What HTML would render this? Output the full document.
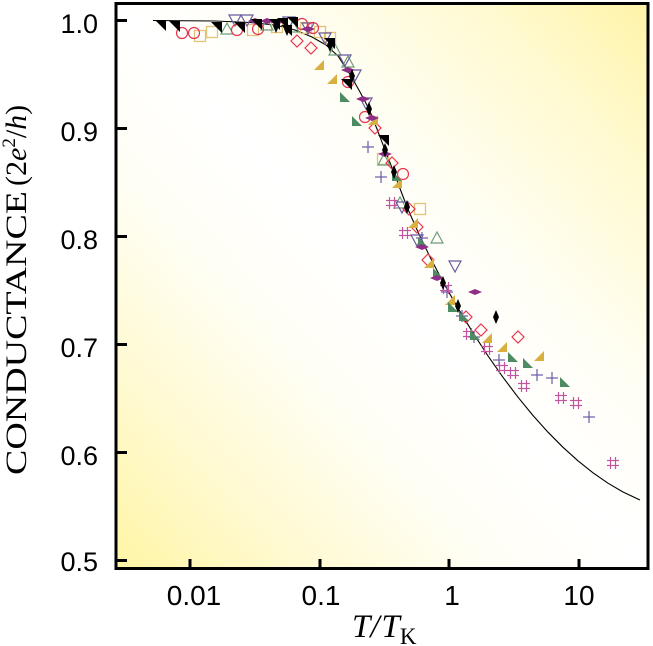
<!DOCTYPE html>
<html><head><meta charset="utf-8">
<style>
html,body{margin:0;padding:0;background:#fff;}
svg{display:block;}
</style></head>
<body>
<svg xmlns="http://www.w3.org/2000/svg" width="653" height="646" viewBox="0 0 653 646">
<defs>
<linearGradient id="bg" x1="0" y1="1" x2="1" y2="0">
<stop offset="0" stop-color="#fff5a5"/>
<stop offset="0.15" stop-color="#fff9cb"/>
<stop offset="0.35" stop-color="#fffef4"/>
<stop offset="0.5" stop-color="#ffffff"/>
<stop offset="0.65" stop-color="#fffef4"/>
<stop offset="0.85" stop-color="#fffacf"/>
<stop offset="1" stop-color="#fff3a8"/>
</linearGradient>
<polygon id="bk" points="-6,-5 5,-5 5,6" fill="#000"/>
<polygon id="gd" points="5,-5 5,5 -5,5" fill="#d8b040"/>
<polygon id="gn" points="-5,-5 -5,5 5,5" fill="#4e8a62"/>
<circle id="rc" r="5.5" fill="none" stroke="#e8354f" stroke-width="1.2"/>
<polygon id="rd" points="0,-6 6,0 0,6 -6,0" fill="none" stroke="#e8354f" stroke-width="1.2"/>
<rect id="sq" x="-5.5" y="-5.5" width="11" height="11" fill="none" stroke="#e2c479" stroke-width="1.3"/>
<polygon id="ut" points="0,-6 6,5 -6,5" fill="none" stroke="#6c9c7c" stroke-width="1.2"/>
<polygon id="dt" points="-6,-5 6,-5 0,6" fill="none" stroke="#6a5aa0" stroke-width="1.2"/>
<polygon id="fd" points="-7,0 0,-3 7,0 0,3" fill="#8e2e86"/>
<polygon id="bd" points="0,-7 3,0 0,7 -3,0" fill="#000"/>
<g id="pl" stroke="#6a5aa8" stroke-width="1.2"><line x1="-6" y1="0" x2="6" y2="0"/><line x1="0" y1="-6" x2="0" y2="6"/></g>
<g id="hs" stroke="#c055a0" stroke-width="1.2"><line x1="-2.5" y1="-6" x2="-2.5" y2="6"/><line x1="2.5" y1="-6" x2="2.5" y2="6"/><line x1="-6" y1="-2.5" x2="6" y2="-2.5"/><line x1="-6" y1="2.5" x2="6" y2="2.5"/></g>
</defs>

<rect x="116" y="3.5" width="532" height="565" fill="url(#bg)"/>

<!-- curve -->
<polyline fill="none" stroke="#000" stroke-width="1.1" stroke-linejoin="round" points="153,20.5 215,21 250,22.5 275,25 295,30 312,37 326,45 338,56 351,76 360,92 369,109 377,129 385,150 396,178 407,207 418,232 430,257 443,282 458,308.2 473,332.8 488,355.9 503,377.3 518,397.2 533,415.5 548,432.2 563,447.3 578,460.8 593,472.8 608,483.2 623,492 640,500"/>

<!-- markers -->
<g>
<use href="#sq" x="200" y="36"/><use href="#sq" x="212" y="32"/><use href="#sq" x="253" y="30"/><use href="#sq" x="277" y="27"/><use href="#sq" x="306" y="28"/><use href="#sq" x="320" y="32"/><use href="#sq" x="330" y="38"/><use href="#sq" x="383" y="159"/><use href="#sq" x="420" y="209"/>
<use href="#ut" x="227" y="29"/><use href="#ut" x="267" y="25"/><use href="#ut" x="293" y="27"/><use href="#ut" x="335" y="50"/><use href="#ut" x="348" y="62"/><use href="#ut" x="384" y="160"/><use href="#ut" x="400" y="203"/><use href="#ut" x="437" y="238"/>
<use href="#dt" x="235" y="20"/><use href="#dt" x="247" y="20"/><use href="#dt" x="289" y="22"/><use href="#dt" x="308" y="28"/><use href="#dt" x="325" y="38"/><use href="#dt" x="345" y="60"/><use href="#dt" x="355" y="75"/><use href="#dt" x="366" y="103"/><use href="#dt" x="402" y="207"/><use href="#dt" x="417" y="240"/><use href="#dt" x="455" y="266"/>
<use href="#rc" x="182" y="33"/><use href="#rc" x="194" y="33"/><use href="#rc" x="237" y="30"/><use href="#rc" x="258" y="29"/><use href="#rc" x="302" y="24"/><use href="#rc" x="313" y="28"/><use href="#rc" x="348" y="82"/><use href="#rc" x="365" y="117"/><use href="#rc" x="403" y="174"/>
<use href="#rd" x="297" y="41"/><use href="#rd" x="311" y="48"/><use href="#rd" x="375" y="128"/><use href="#rd" x="392" y="163"/><use href="#rd" x="409" y="209"/><use href="#rd" x="417" y="227"/><use href="#rd" x="428" y="260"/><use href="#rd" x="466" y="317"/><use href="#rd" x="481" y="330"/><use href="#rd" x="518" y="337"/>
<use href="#pl" x="368" y="147"/><use href="#pl" x="381" y="177"/><use href="#pl" x="422" y="238"/><use href="#pl" x="447" y="292"/><use href="#pl" x="462" y="316"/><use href="#pl" x="474" y="337"/><use href="#pl" x="499" y="360"/><use href="#pl" x="537" y="375"/><use href="#pl" x="552" y="378"/><use href="#pl" x="589" y="417"/>
<use href="#hs" x="392" y="203"/><use href="#hs" x="405" y="233"/><use href="#hs" x="446" y="288"/><use href="#hs" x="469" y="334"/><use href="#hs" x="487" y="349"/><use href="#hs" x="502" y="368"/><use href="#hs" x="513" y="373"/><use href="#hs" x="524" y="386"/><use href="#hs" x="561" y="398"/><use href="#hs" x="576" y="403"/><use href="#hs" x="613" y="463"/>
<use href="#gd" x="319" y="65"/><use href="#gd" x="332" y="79"/><use href="#gd" x="373" y="120"/><use href="#gd" x="397" y="183"/><use href="#gd" x="413" y="223"/><use href="#gd" x="429" y="263"/><use href="#gd" x="450" y="300"/><use href="#gd" x="487" y="338"/><use href="#gd" x="502" y="347"/><use href="#gd" x="539" y="356"/>
<use href="#gn" x="345" y="97"/><use href="#gn" x="357" y="121"/><use href="#gn" x="397" y="176"/><use href="#gn" x="423" y="242"/><use href="#gn" x="438" y="273"/><use href="#gn" x="453" y="307"/><use href="#gn" x="464" y="316"/><use href="#gn" x="475" y="335"/><use href="#gn" x="513" y="357"/><use href="#gn" x="528" y="363"/><use href="#gn" x="565" y="382"/>
<use href="#fd" x="255" y="21"/><use href="#fd" x="267" y="21"/><use href="#fd" x="277" y="22"/><use href="#fd" x="308" y="29"/><use href="#fd" x="348" y="70"/><use href="#fd" x="363" y="99"/><use href="#fd" x="372" y="118"/><use href="#fd" x="385" y="154"/><use href="#fd" x="422" y="247"/><use href="#fd" x="437" y="278"/><use href="#fd" x="475" y="292"/>
<use href="#bk" x="161" y="25"/><use href="#bk" x="175" y="26"/><use href="#bk" x="217" y="27"/><use href="#bk" x="240" y="27"/><use href="#bk" x="257" y="24"/><use href="#bk" x="275" y="24"/><use href="#bk" x="283" y="23"/><use href="#bk" x="293" y="22"/><use href="#bk" x="287" y="30"/><use href="#bk" x="330" y="43"/><use href="#bk" x="347" y="84"/><use href="#bk" x="384" y="140"/>
<use href="#bd" x="276" y="26"/><use href="#bd" x="287" y="29"/><use href="#bd" x="330" y="45"/><use href="#bd" x="352" y="76"/><use href="#bd" x="369" y="109"/><use href="#bd" x="385" y="150"/><use href="#bd" x="394" y="172"/><use href="#bd" x="407" y="207"/><use href="#bd" x="443" y="283"/><use href="#bd" x="458" y="306"/><use href="#bd" x="496" y="317"/>
</g>

<!-- frame -->
<rect x="116" y="3.5" width="532" height="565" fill="none" stroke="#000" stroke-width="3"/>

<!-- ticks -->
<g stroke="#000" stroke-width="3">
<line x1="117" y1="20.5" x2="127" y2="20.5"/>
<line x1="117" y1="128.5" x2="127" y2="128.5"/>
<line x1="117" y1="236.5" x2="127" y2="236.5"/>
<line x1="117" y1="344.5" x2="127" y2="344.5"/>
<line x1="117" y1="452.5" x2="127" y2="452.5"/>
<line x1="117" y1="560.5" x2="127" y2="560.5"/>
<line x1="190" y1="567" x2="190" y2="559"/>
<line x1="320" y1="567" x2="320" y2="559"/>
<line x1="449" y1="567" x2="449" y2="559"/>
<line x1="579" y1="567" x2="579" y2="559"/>
</g>

<g font-family="'Liberation Sans', sans-serif" font-size="27" fill="#000" text-anchor="end">
<text x="98" y="33">1.0</text>
<text x="98" y="141">0.9</text>
<text x="98" y="249">0.8</text>
<text x="98" y="357">0.7</text>
<text x="98" y="465">0.6</text>
<text x="98" y="571">0.5</text>
</g>
<g font-family="'Liberation Sans', sans-serif" font-size="28" fill="#000" text-anchor="middle">
<text x="194" y="605">0.01</text>
<text x="321" y="605">0.1</text>
<text x="452" y="605">1</text>
<text x="579" y="605">10</text>
</g>

<!-- x axis title -->
<text x="352" y="637" font-family="'Liberation Serif', serif" font-size="33" fill="#000"><tspan font-style="italic">T</tspan><tspan font-style="italic">/</tspan><tspan font-style="italic" dx="2">T</tspan><tspan font-size="23" dy="7">K</tspan></text>

<!-- y axis title -->
<g transform="translate(26,0)">
<text transform="translate(0,475) rotate(-90)" font-family="'Liberation Serif', serif" font-size="30" fill="#000" textLength="284" lengthAdjust="spacingAndGlyphs">CONDUCTANCE</text>
<text transform="translate(0,186) rotate(-90)" font-family="'Liberation Serif', serif" font-size="30" fill="#000">(2<tspan font-style="italic">e</tspan><tspan font-size="19" dy="-11">2</tspan><tspan dy="11">/</tspan><tspan font-style="italic">h</tspan>)</text>
</g>
</svg>
</body></html>
